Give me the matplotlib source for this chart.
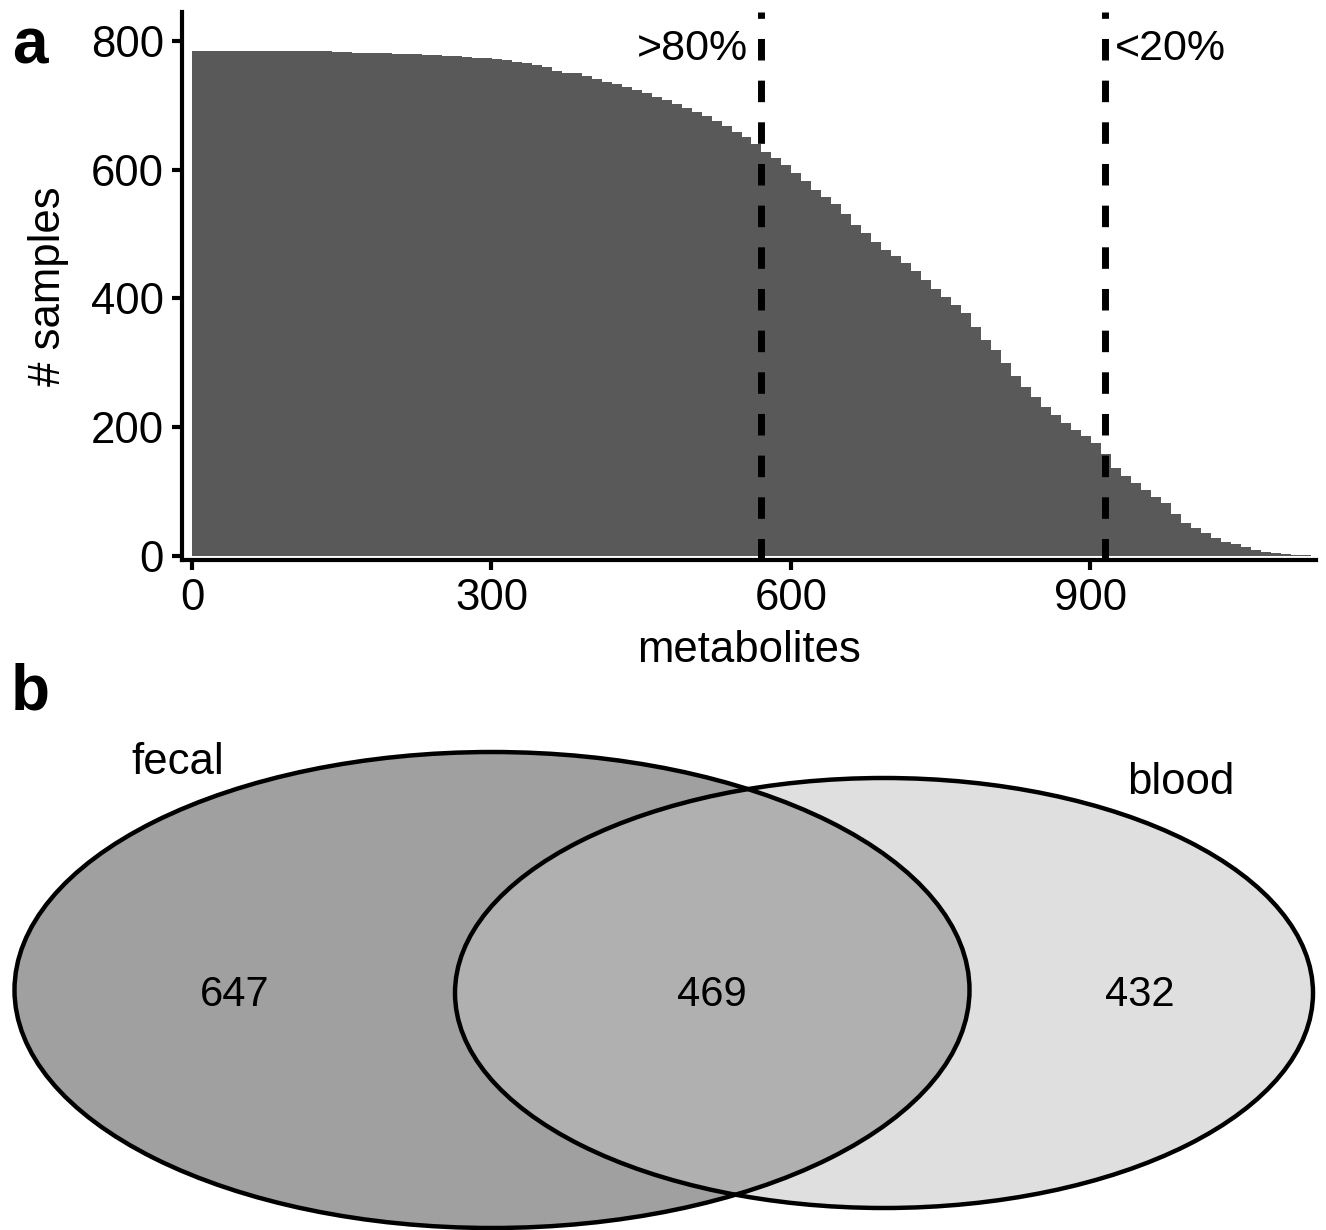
import numpy as np
import matplotlib
matplotlib.use("Agg")
import matplotlib.pyplot as plt
from matplotlib.patches import Ellipse

plt.rcParams['font.family'] = ['Liberation Sans', 'DejaVu Sans']

# ---------------- data ----------------
# number of samples in which each metabolite is detected, read every 10 metabolites (sorted desc.)
bin_width = 10
samples_per_bin = [
    784, 784, 784, 784, 784, 784, 784, 784, 784, 784,
    784, 784, 784, 784, 783, 783, 782, 782, 781, 781,
    780, 780, 779, 778, 778, 777, 776, 775, 774, 773,
    772, 770, 768, 766, 762, 759, 754, 751, 750, 745,
    741, 737, 733, 729, 724, 719, 713, 708, 702, 696,
    690, 684, 676, 668, 659, 651, 640, 628, 618, 607,
    595, 583, 568, 558, 547, 531, 514, 501, 488, 476,
    466, 455, 442, 428, 415, 403, 390, 378, 355, 335,
    320, 300, 279, 263, 247, 231, 219, 207, 196, 186,
    175, 158, 137, 125, 113, 103, 92, 82, 65, 52,
    43, 35, 28, 22, 18, 14, 10, 7, 5, 3,
    1.5, 0.8,
]
threshold_positions = [570, 915]
threshold_labels = [">80%", "<20%"]
x_ticks = [0, 300, 600, 900]
y_ticks = [0, 200, 400, 600, 800]

venn_sets = ["fecal", "blood"]
venn_counts = [647, 469, 432]  # fecal only, both, blood only

# ---------------- figure ----------------
W, H = 1326, 1230
fig = plt.figure(figsize=(W / 100, H / 100), dpi=100)

ax = fig.add_axes([182 / W, 1 - 560 / H, (1316 - 182) / W, (560 - 12) / H])
left_edges = 0.5 + bin_width * np.arange(len(samples_per_bin))
ax.bar(left_edges, samples_per_bin, width=bin_width, align='edge',
       color='#595959', linewidth=0, antialiased=False, zorder=1)
for xp in threshold_positions:
    ax.axvline(xp, color='black', lw=5, dashes=(3.1, 2.9), zorder=3)
ax.text(threshold_positions[0] - 13, 788, threshold_labels[0], ha='right', va='center',
        fontsize=31)
ax.text(threshold_positions[1] + 10, 788, threshold_labels[1], ha='left', va='center',
        fontsize=31)

ax.set_xlim(-10, 1126)
ax.set_ylim(-6.2, 845)
ax.set_xticks(x_ticks)
ax.set_yticks(y_ticks)
for s in ['top', 'right']:
    ax.spines[s].set_visible(False)
for s in ['left', 'bottom']:
    ax.spines[s].set_linewidth(3)
ax.tick_params(axis='both', direction='out', length=7, width=3, labelsize=31.5,
               colors='black', pad=6)
ax.tick_params(axis='x', pad=6)
ax.set_xlabel("metabolites", fontsize=31.5, labelpad=8)
ax.set_ylabel("# samples", fontsize=31.5, labelpad=16)

# ---------------- venn ----------------
ax2 = fig.add_axes([0, 0, 1, 530 / H])
ax2.set_xlim(0, W)
ax2.set_ylim(H, 700)
ax2.axis('off')

e1 = Ellipse((492, 990), 955, 476, facecolor='#a0a0a0', edgecolor='none', zorder=1)
e2 = Ellipse((884, 993), 858, 430, facecolor='#c0c0c0', alpha=0.5, edgecolor='none', zorder=2)
ax2.add_patch(e1)
ax2.add_patch(e2)
for (c, w_, h_) in [((492, 990), 955, 476), ((884, 993), 858, 430)]:
    ax2.add_patch(Ellipse(c, w_, h_, facecolor='none', edgecolor='black', lw=3.2, zorder=3))

ax2.text(235, 995, str(venn_counts[0]), ha='center', va='center', fontsize=30, zorder=4)
ax2.text(712, 995, str(venn_counts[1]), ha='center', va='center', fontsize=30, zorder=4)
ax2.text(1140, 995, str(venn_counts[2]), ha='center', va='center', fontsize=30, zorder=4)
ax2.text(178, 762, venn_sets[0], ha='center', va='center', fontsize=31.5, zorder=4)
ax2.text(1181, 783, venn_sets[1], ha='center', va='center', fontsize=31.5, zorder=4)

fig.text(30 / W, 1 - 47 / H, "a", fontsize=46, fontweight='bold', ha='center', va='center')
fig.text(30 / W, 1 - 692 / H, "b", fontsize=46, fontweight='bold', ha='center', va='center')

fig.savefig("out.png", dpi=100)
